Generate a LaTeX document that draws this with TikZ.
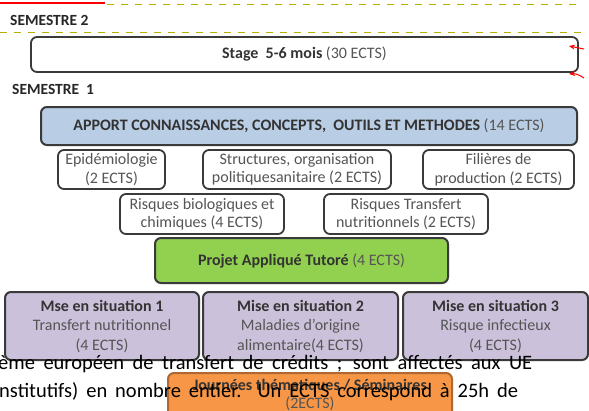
\documentclass[tikz,border=0pt]{standalone}
\usepackage{fontspec}
\setmainfont{Carlito}
\usetikzlibrary{arrows.meta}
\definecolor{apportblue}{HTML}{B9CDE5}
\definecolor{projetgreen}{HTML}{92D050}
\definecolor{miselilac}{HTML}{CCC1DA}
\definecolor{jourorange}{HTML}{F79646}
\definecolor{semolive}{HTML}{B5B000}
\definecolor{boxline}{HTML}{3A3A3A}
\definecolor{ectsgray}{HTML}{555555}
\tikzset{
  semlabel/.style={font=\fontsize{15.5}{17}\selectfont\bfseries, text=black!85, anchor=west, inner sep=0pt},
  uebox/.style={draw=boxline, line width=1.8pt, rounded corners=6pt, fill=white, align=center, inner sep=0pt, font=\fontsize{16}{18.5}\selectfont, text=ectsgray},
  apportbox/.style={uebox, fill=apportblue, line width=2pt},
  projetbox/.style={uebox, fill=projetgreen, line width=2pt},
  misebox/.style={uebox, fill=miselilac, line width=2pt, font=\fontsize{16}{19.5}\selectfont},
  jourbox/.style={uebox, fill=jourorange, line width=2pt, draw=jourorange!70!black},
  semsep/.style={draw=semolive, line width=1pt, dash pattern=on 7pt off 7pt},
  marker/.style={->, draw=red, line width=1pt, >={Stealth[length=6pt,width=5pt]}},
  caption/.style={font=\fontsize{20.5}{28}\selectfont, anchor=base west, inner sep=0pt, text=black}
}
\newcommand{\ttl}[1]{{\bfseries\color{black!80}#1}}

\begin{document}
\begin{tikzpicture}[x=1pt, y=-1pt]
  \clip (0,0) rectangle (589,410);
  \fill[white] (0,0) rectangle (589,410);

  % semestre 2
  \draw[red, line width=2.5pt] (0,3) -- (105,3);
  \draw[semsep] (107,4) -- (580,4);
  \node[semlabel] (sem2) at (10,20) {SEMESTRE 2};
  \draw[semsep] (0,32) -- (586,32);
  \node[uebox, minimum width=547, minimum height=35] (stage) at (304.5,54.5)
    {\ttl{Stage\ \ 5-6 mois} (30 ECTS)};
  \coordinate (m1) at (584,49);
  \coordinate (m2) at (584,78);
  \draw[marker] (m1) -- (569,46);
  \draw[marker] (m2) to[bend right=20] (569,74);

  % semestre 1
  \node[semlabel] (sem1) at (12,89) {SEMESTRE\ \ 1};
  \node[apportbox, minimum width=536, minimum height=38] (apport) at (309,126)
    {\ttl{APPORT CONNAISSANCES, CONCEPTS,\ \ OUTILS ET METHODES} (14 ECTS)};
  \node[uebox, minimum width=107, minimum height=39] (epid) at (111.5,169.5)
    {Epidémiologie\\(2 ECTS)};
  \node[uebox, minimum width=188, minimum height=39] (struct) at (297,169.5)
    {Structures, organisation\\politiquesanitaire (2 ECTS)};
  \node[uebox, minimum width=151, minimum height=39] (filiere) at (498.5,169.5)
    {Filières de\\production (2 ECTS)};
  \node[uebox, minimum width=164, minimum height=40] (risqbio) at (202,214)
    {Risques biologiques et\\chimiques (4 ECTS)};
  \node[uebox, minimum width=164, minimum height=40] (risqnut) at (406,214)
    {Risques Transfert\\nutritionnels (2 ECTS)};
  \node[projetbox, minimum width=293, minimum height=45] (projet) at (301.5,260.5)
    {\ttl{Projet Appliqué Tutoré} (4 ECTS)};
  \node[misebox, minimum width=194, minimum height=68] (mise1) at (102,326)
    {\ttl{Mse en situation 1}\\Transfert nutritionnel\\(4 ECTS)};
  \node[misebox, minimum width=195, minimum height=68] (mise2) at (300.5,326)
    {\ttl{Mise en situation 2}\\Maladies d’origine\\alimentaire(4 ECTS)};
  \node[misebox, minimum width=185, minimum height=68] (mise3) at (495.5,326)
    {\ttl{Mise en situation 3}\\Risque infectieux\\(4 ECTS)};
  \node[jourbox, anchor=north, minimum width=284, minimum height=44] (jour) at (310,372)
    {\ttl{Journées thématiques / Séminaires}\\(2ECTS)};

  % texte par-dessus
  \node[caption] (cap1) at (-2,369) {\hbox to 534pt{ème européen de transfert de crédits ; sont affectés aux UE}};
  \node[caption] (cap2) at (-1,397) {\hbox to 519pt{nstitutifs) en nombre entier. Un ECTS correspond à 25h de}};
\end{tikzpicture}
\end{document}
